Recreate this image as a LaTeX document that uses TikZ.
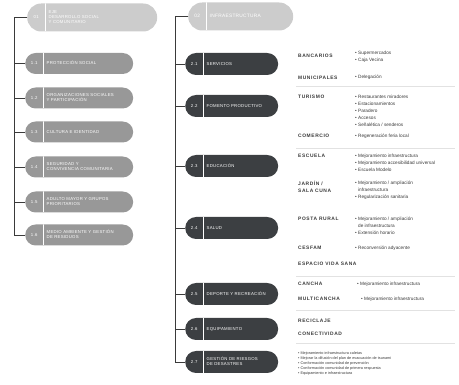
\documentclass[tikz,border=0pt]{standalone}
\usepackage{fontspec}
\setmainfont{Liberation Sans}
\newfontfamily\pillfont[LetterSpace=6]{Liberation Sans}
\newfontfamily\tagfont[LetterSpace=12]{Liberation Sans}
\usetikzlibrary{calc}
\definecolor{GrisClaro}{RGB}{204,204,204}
\definecolor{GrisMedio}{RGB}{152,152,152}
\definecolor{GrisOscuro}{RGB}{60,63,66}
\definecolor{GrisTexto}{RGB}{58,58,58}
\definecolor{GrisLinea}{RGB}{226,226,226}
\newcommand{\pilltext}[2]{\makebox[11pt][c]{#1}\hspace{7pt}\begin{tabular}{@{}l@{}}#2\end{tabular}}
\newcommand{\bl}{\textbullet\ }
\newcommand{\sbl}{\phantom{\textbullet\ }}

\begin{document}
\begin{tikzpicture}[x=1pt,y=-1pt,
  pillbase/.style={anchor=west,text=white,align=left,inner xsep=3.5pt,inner ysep=0pt,
    font=\pillfont\fontsize{4.3}{5.2}\selectfont,
    path picture={\draw[white,line width=.6pt]
      ([xshift=18pt]path picture bounding box.north west) --
      ([xshift=18pt]path picture bounding box.south west);}},
  headpill/.style={pillbase,fill=GrisClaro,minimum height=28pt,rounded corners=14pt},
  leftpill/.style={pillbase,fill=GrisMedio,minimum height=21pt,rounded corners=10.5pt,text width=101pt},
  rightpill/.style={pillbase,fill=GrisOscuro,minimum height=22pt,rounded corners=11pt,text width=86pt},
  trunk/.style={draw=GrisTexto,line width=.5pt},
  tag/.style={anchor=base west,inner sep=0pt,align=left,text=GrisTexto,
    font=\tagfont\bfseries\fontsize{4.9}{7}\selectfont},
  items/.style={anchor=north west,yshift=3.9pt,inner sep=0pt,align=left,text=GrisTexto,
    font=\fontsize{4.7}{7}\selectfont},
  sep/.style={draw=GrisLinea,line width=.5pt}]

  \useasboundingbox (0,0) rectangle (459,385);

  % columna 1
  \node[headpill,text width=123pt] (h1) at (27,17.5) {\pilltext{01}{EJE\\DESARROLLO SOCIAL\\Y COMUNITARIO}};
  \node[leftpill] (a1) at (25,63.5) {\pilltext{1.1}{PROTECCIÓN SOCIAL}};
  \node[leftpill] (a2) at (25,98) {\pilltext{1.2}{ORGANIZACIONES SOCIALES\\Y PARTICIPACIÓN}};
  \node[leftpill] (a3) at (25,132) {\pilltext{1.3}{CULTURA E IDENTIDAD}};
  \node[leftpill] (a4) at (25,167) {\pilltext{1.4}{SEGURIDAD Y\\CONVIVENCIA COMUNITARIA}};
  \node[leftpill] (a5) at (25,202) {\pilltext{1.5}{ADULTO MAYOR Y GRUPOS\\PRIORITARIOS}};
  \node[leftpill] (a6) at (25,235) {\pilltext{1.6}{MEDIO AMBIENTE Y GESTIÓN\\DE RESIDUOS}};
  \coordinate (t1) at ([xshift=-13pt]h1.west);
  \draw[trunk] (h1.west) -- (t1) |- (a6.west);
  \foreach \n in {a1,a2,a3,a4,a5}
    \draw[trunk] (t1 |- \n.west) -- (\n.west);

  % columna 2
  \node[headpill,text width=98pt,font=\pillfont\fontsize{4.8}{5.6}\selectfont] (h2) at (188,16.5) {\pilltext{02}{INFRAESTRUCTURA}};
  \node[rightpill] (b1) at (185,64) {\pilltext{2.1}{SERVICIOS}};
  \node[rightpill] (b2) at (185,106) {\pilltext{2.2}{FOMENTO PRODUCTIVO}};
  \node[rightpill] (b3) at (185,166) {\pilltext{2.3}{EDUCACIÓN}};
  \node[rightpill] (b4) at (185,228) {\pilltext{2.4}{SALUD}};
  \node[rightpill] (b5) at (185,294) {\pilltext{2.5}{DEPORTE Y RECREACIÓN}};
  \node[rightpill] (b6) at (185,329) {\pilltext{2.6}{EQUIPAMIENTO}};
  \node[rightpill] (b7) at (185,362) {\pilltext{2.7}{GESTIÓN DE RIESGOS\\DE DESASTRES}};
  \coordinate (t2) at ([xshift=-13pt]h2.west);
  \draw[trunk] (h2.west) -- (t2) |- (b7.west);
  \foreach \n in {b1,b2,b3,b4,b5,b6}
    \draw[trunk] (t2 |- \n.west) -- (\n.west);

  % detalle
  \node[tag] (bancarios) at (298,58) {BANCARIOS};
  \node[items] (lbancarios) at (355,55) {\bl Supermercados\\\bl Caja Vecina};
  \node[tag] (municipales) at (298,79.5) {MUNICIPALES};
  \node[items] (lmunicipales) at (355,79) {\bl Delegación};
  \draw[sep] (296,86) -- (455,86);
  \node[tag] (turismo) at (298,99) {TURISMO};
  \node[items] (lturismo) at (355,99) {\bl Restaurantes miradores\\\bl Estacionamientos\\\bl Paradero\\\bl Accesos\\\bl Señalética / senderos};
  \node[tag] (comercio) at (298,138) {COMERCIO};
  \node[items] (lcomercio) at (355,138) {\bl Regeneración feria local};
  \draw[sep] (296,148) -- (455,148);
  \node[tag] (escuela) at (298,158) {ESCUELA};
  \node[items] (lescuela) at (355,158) {\bl Mejoramiento infraestructura\\\bl Mejoramiento accesibilidad universal\\\bl Escuela Modelo};
  \node[tag,anchor=north west,yshift=3.8pt] (jardin) at (298,185) {JARDÍN /\\SALA CUNA};
  \node[items] (ljardin) at (355,185) {\bl Mejoramiento / ampliación\\\sbl infraestructura\\\bl Regularización sanitaria};
  \node[tag] (posta) at (298,221) {POSTA RURAL};
  \node[items] (lposta) at (355,221) {\bl Mejoramiento / ampliación\\\sbl de infraestructura\\\bl Extensión horario};
  \node[tag] (cesfam) at (298,249.5) {CESFAM};
  \node[items] (lcesfam) at (355,249.5) {\bl Reconversión adyacente};
  \node[tag] (vidasana) at (298,266) {ESPACIO VIDA SANA};
  \draw[sep] (296,276) -- (455,276);
  \node[tag] (cancha) at (298,286) {CANCHA};
  \node[items] (lcancha) at (357,286) {\bl Mejoramiento infraestructura};
  \node[tag] (multicancha) at (298,301) {MULTICANCHA};
  \node[items] (lmulticancha) at (361,301) {\bl Mejoramiento infraestructura};
  \draw[sep] (296,310) -- (455,310);
  \node[tag] (reciclaje) at (298,323) {RECICLAJE};
  \node[tag] (conectividad) at (298,336) {CONECTIVIDAD};
  \draw[sep] (296,343) -- (455,343);
  \node[items,yshift=-0.8pt,font=\fontsize{3.8}{4.8}\selectfont] (lriesgos) at (298,355) {\bl Mejoramiento infraestructura caletas\\\bl Mejorar la difusión del plan de evacuación de tsunami\\\bl Conformación comunidad de prevención\\\bl Conformación comunidad de primera respuesta\\\bl Equipamiento e infraestructura};
\end{tikzpicture}
\end{document}
